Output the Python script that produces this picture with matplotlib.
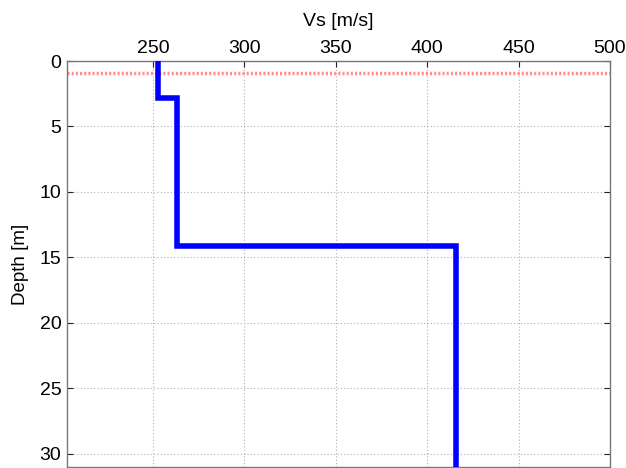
import matplotlib
matplotlib.use("Agg")
import matplotlib.pyplot as plt

plt.rcParams['font.family'] = ['Liberation Sans', 'DejaVu Sans']

# Layer profile (step): velocities and layer boundaries
vs_values = [253, 263, 416]
layer_tops = [0.0, 2.8, 14.1]
max_depth = 31.0
water_table = 0.9

xticks = [250, 300, 350, 400, 450, 500]
yticks = [0, 5, 10, 15, 20, 25, 30]

# Build step coordinates from layers
xs, ys = [], []
bounds = layer_tops[1:] + [max_depth]
for v, top, bot in zip(vs_values, layer_tops, bounds):
    xs += [v, v]
    ys += [top, bot]

fig = plt.figure(figsize=(6.26, 4.68), dpi=100)
ax = fig.add_axes([67/626, 1 - 467/468, (610 - 67)/626, (467 - 61)/468])

ax.axhline(water_table, color='#ff7070', linestyle=(0, (0.6, 0.6)), linewidth=2.5, alpha=0.8, zorder=2)
ax.plot(xs, ys, color='#0000ff', linewidth=4.0, solid_joinstyle='miter', zorder=3)

ax.set_xlim(203, 500)
ax.set_ylim(max_depth, 0)
ax.set_xticks(xticks)
ax.set_yticks(yticks)
ax.xaxis.tick_top()
ax.xaxis.set_label_position('top')
ax.set_xlabel('Vs [m/s]', fontsize=14, labelpad=10)
ax.set_ylabel('Depth [m]', fontsize=13.5, labelpad=8)
ax.tick_params(direction='in', length=4, labelsize=14, colors='#222222',
               top=True, right=True, bottom=False, left=True)
ax.tick_params(axis='x', pad=3)
ax.tick_params(axis='y', pad=4)
for tl in ax.get_xticklabels() + ax.get_yticklabels():
    tl.set_color('black')
ax.grid(True, linestyle=(0, (1, 2)), color='#b0b0b0', linewidth=0.8)
for s in ax.spines.values():
    s.set_color('#777777')
    s.set_linewidth(1.0)

fig.savefig('out.png', dpi=100)
